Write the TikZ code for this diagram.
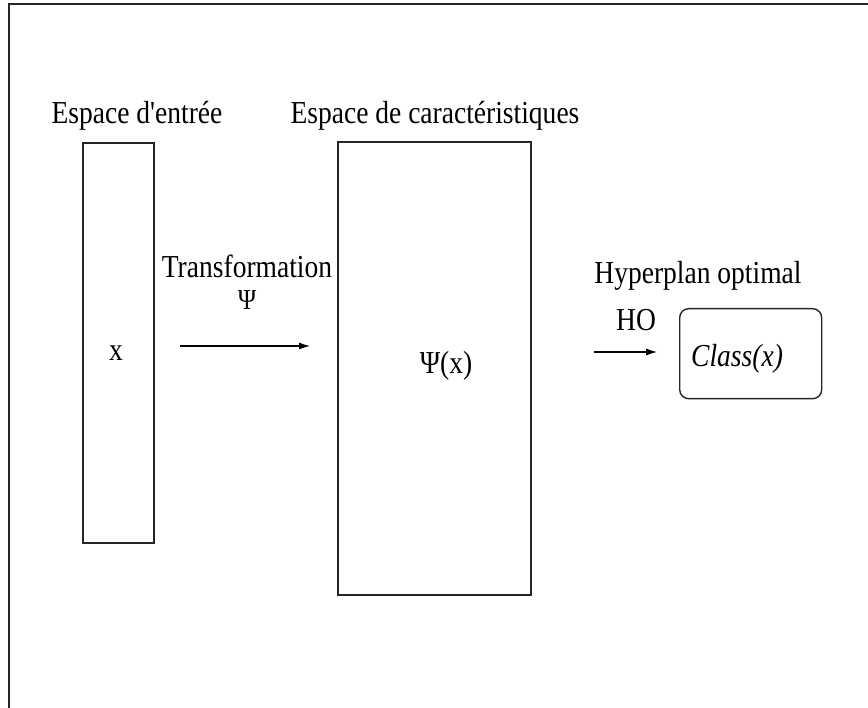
\documentclass[tikz,border=0pt]{standalone}
\usepackage{fontspec}
\setmainfont{Liberation Serif}[FakeStretch=0.86, Ligatures=TeXOff]
\usetikzlibrary{arrows.meta}
\begin{document}
\begin{tikzpicture}[x=1pt,y=-1pt,
  lbl/.style={font=\fontsize{32}{34}\selectfont, inner sep=0pt, anchor=base},
  space/.style={draw=black!85, line width=1.6pt},
  flow/.style={line width=1.1pt, -{Latex[length=11pt,width=7pt]}}]
\useasboundingbox (0,0) rectangle (868,708);
% open frame: top and left edges
\coordinate (fbl) at (9,708);
\coordinate (ftl) at (9,4);
\coordinate (ftr) at (868,4);
\draw[black!85, line width=2.2pt] (fbl) -- (ftl) -- (ftr);

% input space
\node[space, minimum width=71pt, minimum height=400pt, anchor=north west] (inbox) at (82,142) {};
\node[lbl] (intitle) at (137,124) {Espace d'entrée};
\node[lbl] (xin) at (116,361) {x};

% feature space
\node[space, minimum width=193pt, minimum height=453pt, anchor=north west] (featbox) at (337,141) {};
\node[lbl] (feattitle) at (435,124) {Espace de caractéristiques};
\node[lbl] (psix) at (446,374) {Ψ(x)};

% transformation arrow
\node[lbl] (trans) at (247,278) {Transformation};
\node[lbl, font=\fontsize{29}{31}\selectfont] (psi) at (247,310) {Ψ};
\coordinate (a1s) at (180,346);
\coordinate (a1e) at (310,346);
\draw[flow] (a1s) -- (a1e);

% optimal hyperplan and decision
\node[lbl] (hyp) at (698,284) {Hyperplan optimal};
\node[lbl] (ho) at (636,331) {HO};
\coordinate (a2s) at (594,352);
\coordinate (a2e) at (657,352);
\draw[flow] (a2s) -- (a2e);
\node[draw=black!85, line width=1.4pt, rounded corners=9pt, minimum width=142pt, minimum height=90pt, anchor=north west] (cls) at (679,308) {};
\node[lbl, anchor=base west] (clstxt) at (691,367) {\itshape Class(x)};
\end{tikzpicture}
\end{document}
